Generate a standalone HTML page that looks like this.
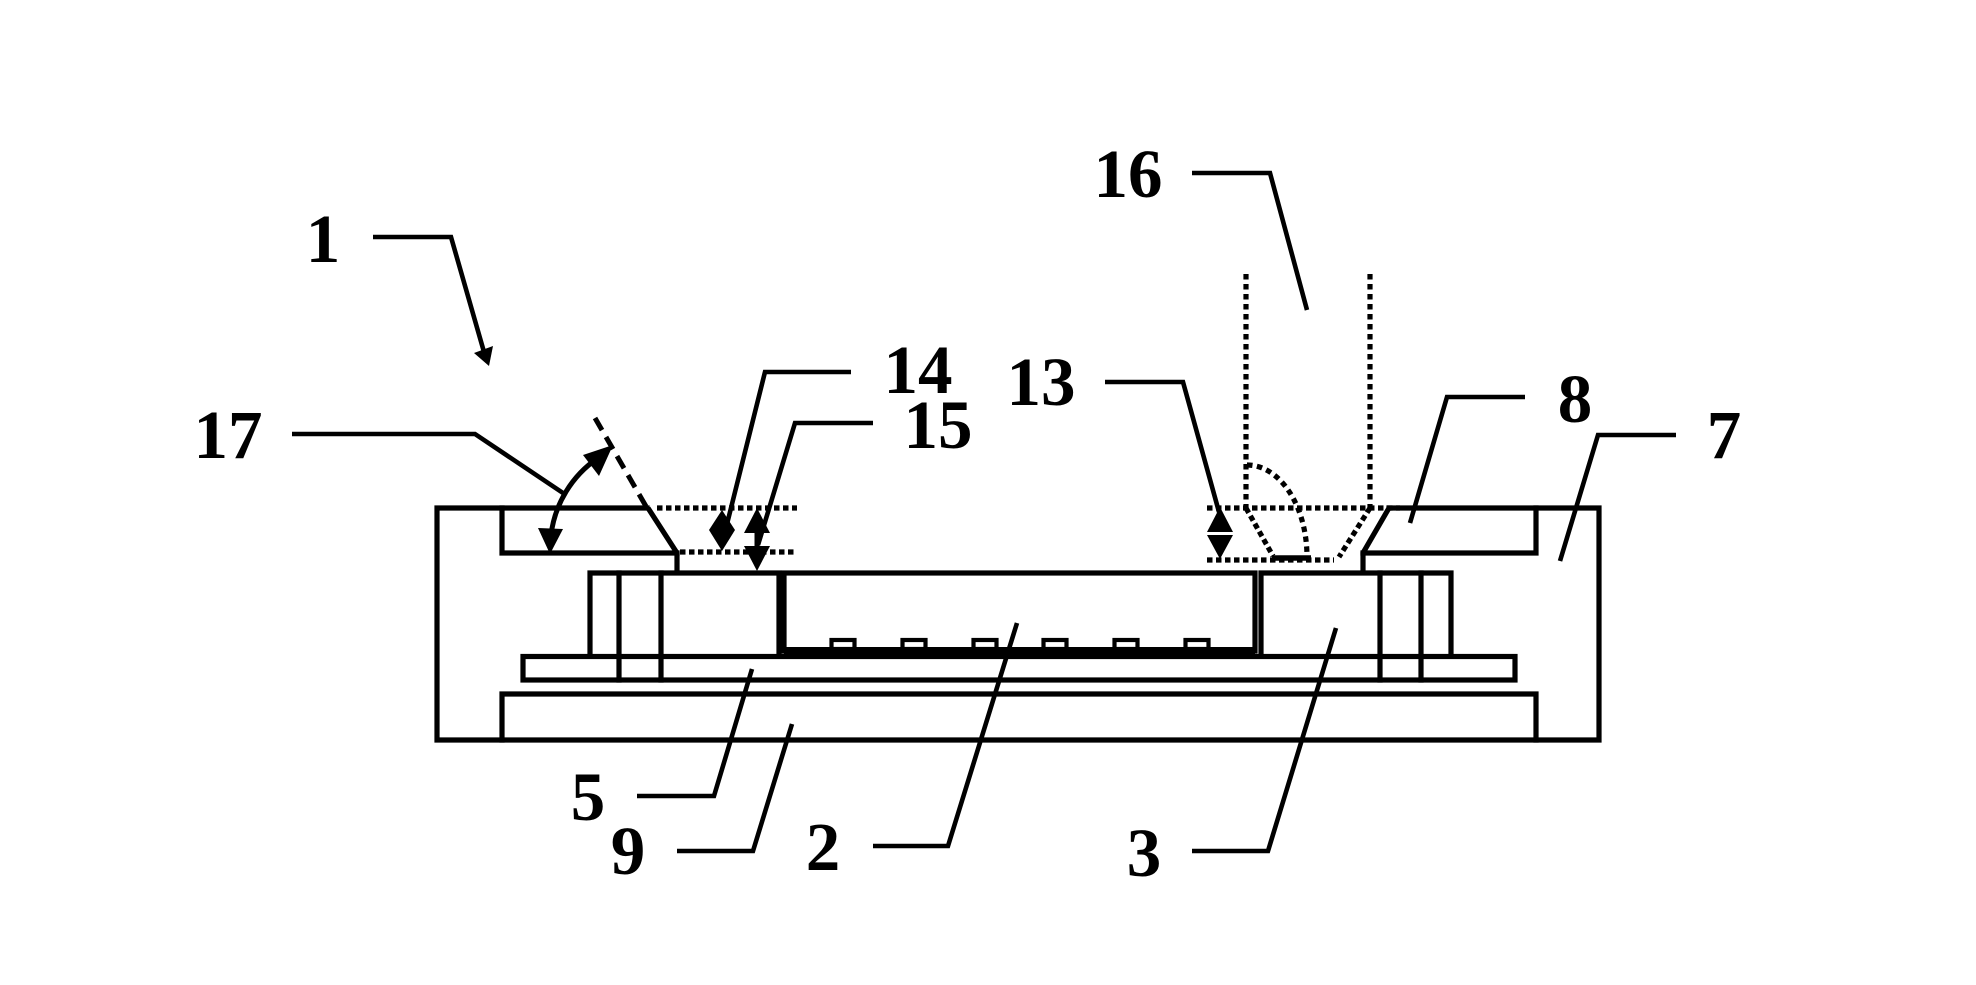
<!DOCTYPE html>
<html>
<head>
<meta charset="utf-8">
<style>
html,body{margin:0;padding:0;background:#fff;}
svg{display:block;}
text{font-family:"Liberation Serif","DejaVu Serif",serif;font-weight:bold;font-size:69px;fill:#000;text-anchor:middle;}
</style>
</head>
<body>
<svg width="1976" height="985" viewBox="0 0 1976 985" xmlns="http://www.w3.org/2000/svg">
<rect width="1976" height="985" fill="#fff"/>
<g fill="none" stroke="#000" stroke-width="5.2" stroke-linejoin="miter" stroke-linecap="square">
  <!-- outer housing 7 -->
  <path d="M647,508 L437,508 L437,740 L1599,740 L1599,508 L1389,508"/>
  <!-- left upper plate -->
  <path d="M502,508 L502,553 L677,553"/>
  <path d="M648,508 L677,553 L677,573" stroke-linecap="butt"/>
  <!-- right upper plate -->
  <path d="M1536,508 L1536,553 L1363,553"/>
  <path d="M1389,508 L1363,553 L1363,573" stroke-linecap="butt"/>
  <!-- left pad -->
  <path d="M590,656 L590,573 L779,573 L779,656"/>
  <!-- chip 2 -->
  <rect x="784" y="573" width="471" height="78"/>
  <!-- right pad 3 -->
  <path d="M1261,656 L1261,573 L1451,573 L1451,656"/>
  <!-- vias -->
  <line x1="619" y1="573" x2="619" y2="680"/>
  <line x1="661" y1="573" x2="661" y2="680"/>
  <line x1="1380" y1="573" x2="1380" y2="680"/>
  <line x1="1421" y1="573" x2="1421" y2="680"/>
  <!-- substrate 5 -->
  <rect x="523" y="656.5" width="992" height="23.5"/>
  <!-- bottom plate 9 -->
  <path d="M502,740 L502,694 L1536,694 L1536,740"/>
  <!-- bumps -->
  <rect x="831.5" y="640" width="23" height="9" stroke-width="4.2"/>
  <rect x="902.5" y="640" width="23" height="9" stroke-width="4.2"/>
  <rect x="973.5" y="640" width="23" height="9" stroke-width="4.2"/>
  <rect x="1043.5" y="640" width="23" height="9" stroke-width="4.2"/>
  <rect x="1114.5" y="640" width="23" height="9" stroke-width="4.2"/>
  <rect x="1185.5" y="640" width="23" height="9" stroke-width="4.2"/>
</g>
<!-- chip bottom thick band -->
<rect x="784" y="647" width="471" height="11" fill="#000"/>

<!-- dotted lines -->
<g fill="none" stroke="#000" stroke-width="5.2" stroke-dasharray="5.5 3.5" stroke-linecap="butt">
  <line x1="657" y1="508" x2="797" y2="508"/>
  <line x1="680" y1="552" x2="797" y2="552"/>
  <line x1="1207" y1="508" x2="1400" y2="508"/>
  <line x1="1207" y1="560" x2="1334" y2="560"/>
  <line x1="1246" y1="274" x2="1246" y2="508" stroke-dasharray="5.5 4.5"/>
  <line x1="1370" y1="274" x2="1370" y2="508" stroke-dasharray="5.5 4.5"/>
  <line x1="1246" y1="508" x2="1273" y2="556"/>
  <line x1="1370" y1="508" x2="1339" y2="557"/>
  <path d="M1247,465 A60,92 0 0 1 1307,557" stroke-dasharray="5.5 4.5"/>
</g>
<line x1="1272" y1="558" x2="1311" y2="558" stroke="#000" stroke-width="5.5"/>

<!-- dashed angle reference line -->
<line x1="595" y1="418" x2="647" y2="508" stroke="#000" stroke-width="5" stroke-dasharray="14 8"/>

<!-- leaders -->
<g fill="none" stroke="#000" stroke-width="4.6" stroke-linejoin="miter">
  <path d="M373,237 L451,237 L484,352"/>
  <path d="M292,434 L475,434 L563,493"/>
  <path d="M851,372 L765,372 L723,540"/>
  <path d="M873,423 L795,423 L758,545"/>
  <path d="M1105,382 L1183,382 L1219,512"/>
  <path d="M1192,173 L1270,173 L1307,310"/>
  <path d="M1525,397 L1447,397 L1410,523"/>
  <path d="M1676,435 L1598,435 L1560,561"/>
  <path d="M637,796 L714,796 L752,669"/>
  <path d="M677,851 L753,851 L792,724"/>
  <path d="M873,846 L948,846 L1017,623"/>
  <path d="M1192,851 L1268,851 L1336,628"/>
  <!-- angle arc -->
  <path d="M551,535 A109,109 0 0 1 598,458" stroke-width="5"/>
  <!-- 15 shaft -->
  <line x1="757" y1="530" x2="757" y2="550" stroke-width="5"/>
</g>

<!-- arrowheads -->
<g fill="#000" stroke="none">
  <!-- 1 -->
  <polygon points="489,366 474,353 493,346"/>
  <!-- 17 arc ends -->
  <polygon points="550,554 538,528 563,529"/>
  <polygon points="613,445 583,455 599,476"/>
  <!-- 14 -->
  <polygon points="722,510 709,530 735,530"/>
  <polygon points="722,551 709,530 735,530"/>
  <!-- 15 -->
  <polygon points="757,508 744,533 770,533"/>
  <polygon points="757,571 744,546 770,546"/>
  <!-- 13 -->
  <polygon points="1220,507 1207,532 1233,532"/>
  <polygon points="1220,559 1207,535 1233,535"/>
</g>

<!-- labels -->
<text x="323" y="262">1</text>
<text x="228" y="458">17</text>
<text x="918" y="393">14</text>
<text x="938" y="448">15</text>
<text x="1041" y="405">13</text>
<text x="1128" y="197">16</text>
<text x="1575" y="422">8</text>
<text x="1724" y="458">7</text>
<text x="588" y="820">5</text>
<text x="628" y="874">9</text>
<text x="823" y="870">2</text>
<text x="1144" y="876">3</text>
</svg>
</body>
</html>
